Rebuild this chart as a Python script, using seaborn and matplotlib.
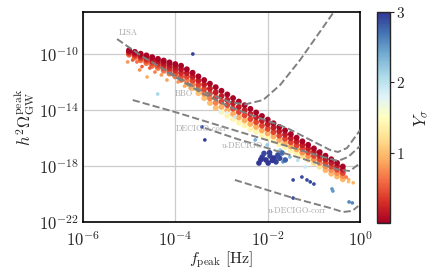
import numpy as np
import pandas as pd
import matplotlib
matplotlib.use("Agg")
import matplotlib.pyplot as plt
import seaborn as sns
from matplotlib import ticker, colors, cm

# ---------------- data (log10 values) ----------------
band_logf = [-5.0, -4.875, -4.75, -4.625, -4.5, -4.375, -4.25, -4.125, -4.0, -3.875,
             -3.75, -3.625, -3.5, -3.375, -3.25, -3.125, -3.0, -2.875, -2.75, -2.625,
             -2.5, -2.375, -2.25, -2.125, -2.0, -1.875, -1.75, -1.625, -1.5, -1.375,
             -1.25, -1.125, -1.0, -0.875, -0.75, -0.625, -0.5, -0.375]

row0_logomega = [-9.73, -9.85, -9.98, -10.10, -10.22, -10.35, -10.47, -10.60, -10.72, -10.84,
                 -11.09, -11.34, -11.60, -11.86, -12.12, -12.37, -12.63, -12.89, -13.15, -13.40,
                 -13.66, -13.92, -14.18, -14.43, -14.69, -14.95, -15.21, -15.46, -15.72, -15.98,
                 -16.24, -16.49, -16.75, -17.01, -17.27, -17.52, -17.78, -18.04]
row1_logomega = [-9.81, -9.95, -10.10, -10.24, -10.38, -10.51, -10.65, -10.80, -10.94, -11.09,
                 -11.36, -11.62, -11.90, -12.18, -12.47, -12.74, -13.01, -13.27, -13.53, -13.78,
                 -14.02, -14.28, -14.52, -14.77, -15.02, -15.26, -15.52, -15.76, -16.02, -16.26,
                 -16.51, -16.76, -17.01, -17.27, -17.53, -17.78, -18.02, -18.27]
row2_logomega = [-9.89, -10.05, -10.22, -10.38, -10.54, -10.68, -10.84, -11.00, -11.16, -11.35,
                 -11.62, -11.90, -12.20, -12.51, -12.81, -13.11, -13.39, -13.65, -13.90, -14.15,
                 -14.38, -14.64, -14.87, -15.12, -15.35, -15.58, -15.83, -16.06, -16.31, -16.54,
                 -16.77, -17.02, -17.28, -17.53, -17.79, -18.04, -18.27, -18.50]
row3_logomega = [-9.97, -10.15, -10.33, -10.51, -10.69, -10.84, -11.02, -11.20, -11.38, -11.60,
                 -11.89, -12.17, -12.50, -12.83, -13.16, -13.48, -13.77, -14.02, -14.28, -14.53,
                 -14.74, -14.99, -15.21, -15.46, -15.67, -15.89, -16.14, -16.35, -16.61, -16.82,
                 -17.04, -17.29, -17.54, -17.79, -18.04, -18.29, -18.51, -18.72]
row4_logomega = [-10.05, -10.25, -10.45, -10.65, -10.85, -11.0, -11.2, -11.4, -11.6, -11.85,
                 -12.15, -12.45, -12.8, -13.15, -13.5, -13.85, -14.15, -14.4, -14.65, -14.9,
                 -15.1, -15.35, -15.55, -15.8, -16.0, -16.2, -16.45, -16.65, -16.9, -17.1,
                 -17.3, -17.55, -17.8, -18.05, -18.3, -18.55, -18.75, -18.95]

row0_Y = [0.03] * 38
row1_Y = [0.12] * 10 + [0.18] * 28
row2_Y = [0.25] * 10 + [0.4] * 28
row3_Y = [0.45] * 10 + [0.7] * 6 + [0.9] * 14 + [0.75] * 8
row4_Y = [0.65] * 10 + [1.0] * 6 + [1.4] * 14 + [1.2] * 4 + [0.95] * 4

# isolated points
extra_logf = [-5.03, -4.83, -4.92, -4.77, -4.72, -4.61, -4.55, -4.44, -4.30, -4.18,
              -3.94, -3.80, -3.68,
              -4.38, -3.62, -3.42, -3.36, -3.03, -2.88, -2.71,
              -2.27, -2.01, -1.73, -1.52, -1.67, -1.19, -1.35,
              -1.45, -1.26, -1.15, -1.08, -1.00, -0.61, -0.59, -0.24, -0.17, -1.45,
              -0.25, -0.25, -0.15, -0.30]
extra_logomega = [-10.57, -10.57, -10.43, -11.14, -10.90, -11.64, -11.00, -11.29, -11.50, -11.86,
                  -12.00, -12.30, -12.43,
                  -12.86, -10.00, -15.21, -16.14, -14.14, -14.21, -14.50,
                  -16.14, -16.50, -16.86, -17.36, -17.71, -18.07, -17.60,
                  -19.00, -18.79, -19.00, -19.14, -19.29, -19.64, -19.79, -20.57, -20.64, -20.29,
                  -18.98, -19.12, -19.20, -18.80]
extra_Y = [0.8, 0.6, 0.5, 0.75, 0.55, 0.9, 0.5, 0.7, 0.8, 0.85,
           0.8, 0.9, 0.85,
           2.1, 2.95, 2.9, 2.95, 1.8, 1.75, 1.9,
           2.4, 2.2, 2.2, 2.3, 2.5, 1.9, 2.0,
           2.9, 2.9, 2.9, 2.9, 2.9, 2.5, 2.5, 2.6, 2.6, 2.9,
           0.9, 1.0, 0.95, 0.7]

# dense dark-blue clump
clump_logf = [-2.12, -2.04, -1.95, -1.86, -1.78, -1.69, -1.99, -1.82, -2.19, -1.62,
              -2.08, -1.90, -2.15, -1.74, -1.96]
clump_logomega = [-17.36, -17.57, -17.29, -17.43, -17.21, -17.07, -17.79, -17.71, -17.79, -17.57,
                  -17.10, -17.60, -17.55, -17.45, -17.05]
clump_Y = [2.95, 3.0, 2.95, 3.0, 2.9, 2.75, 3.0, 2.95, 3.0, 2.8,
           2.9, 3.0, 3.0, 2.9, 2.95]

# sensitivity curves (log10 f, log10 h^2 Omega)
lisa_logf = [-5.26, -4.70, -3.47, -2.82, -2.49, -2.10, -1.73, -1.30, -0.585]
lisa_logomega = [-8.93, -10.21, -12.57, -13.43, -13.60, -13.29, -12.21, -10.43, -7.07]
bbo_logf = [-4.18, -3.47, -2.82, -1.58, -0.65, -0.48, -0.28, 0.0]
bbo_logomega = [-11.29, -12.71, -13.79, -15.29, -16.86, -17.00, -16.71, -15.43]
decigo_corr_logf = [-4.92, -4.01, -2.60, -0.80, -0.48, -0.26, 0.0]
decigo_corr_logomega = [-13.29, -14.14, -15.57, -17.36, -17.64, -17.36, -16.57]
udecigo_logf = [-3.36, -2.66, -1.30, -0.43, -0.22, 0.0]
udecigo_logomega = [-15.29, -16.07, -17.43, -18.29, -18.36, -17.79]
udecigo_corr_logf = [-2.71, -1.45, -0.65, -0.37, -0.17, -0.04]
udecigo_corr_logomega = [-19.00, -20.29, -21.00, -21.29, -21.21, -20.86]

curve_labels = ["LISA", "BBO", "DECIGO-corr", "u-DECIGO", "u-DECIGO-corr"]
label_logf = [-5.22, -4.02, -4.0, -3.0, -2.0]
label_logomega = [-8.5, -12.86, -15.36, -16.57, -21.21]

x_ticks = [1e-6, 1e-4, 1e-2, 1e0]
y_ticks = [1e-22, 1e-18, 1e-14, 1e-10]
cbar_ticks = [1, 2, 3]

# ---------------- style ----------------
sns.set_theme(style="white")
plt.rcParams["font.family"] = ["serif"]
plt.rcParams["font.serif"] = ["cmr10", "DejaVu Serif"]
plt.rcParams["mathtext.fontset"] = "cm"
plt.rcParams["axes.unicode_minus"] = False

fig = plt.figure(figsize=(4.36, 2.73), dpi=100)
ax = fig.add_axes([0.190, 0.187, 0.636, 0.769])
cax = fig.add_axes([0.865, 0.183, 0.030, 0.773])

ax.set_xscale("log")
ax.set_yscale("log")
ax.set_xlim(1e-6, 1e0)
ax.set_ylim(1e-22, 1e-7)
ax.grid(True, which="major", color="#cccccc", linewidth=0.9)
ax.set_axisbelow(True)

norm = colors.Normalize(vmin=0.0, vmax=3.0)
cmap = "RdYlBu"

# band rows drawn bottom-to-top so the red top rows stay visible
rows = [(row4_logomega, row4_Y), (row3_logomega, row3_Y), (row2_logomega, row2_Y),
        (row1_logomega, row1_Y), (row0_logomega, row0_Y)]
for lo, yv in rows:
    df = pd.DataFrame({"f": 10.0 ** np.array(band_logf),
                       "omega": 10.0 ** np.array(lo),
                       "Y": yv})
    sns.scatterplot(data=df, x="f", y="omega", hue="Y", palette=cmap, hue_norm=norm,
                    s=18, linewidth=0, legend=False, ax=ax, zorder=3)

df_extra = pd.DataFrame({"f": 10.0 ** np.array(extra_logf),
                         "omega": 10.0 ** np.array(extra_logomega),
                         "Y": extra_Y})
sns.scatterplot(data=df_extra, x="f", y="omega", hue="Y", palette=cmap, hue_norm=norm,
                s=7, linewidth=0, legend=False, ax=ax, zorder=3)

df_clump = pd.DataFrame({"f": 10.0 ** np.array(clump_logf),
                         "omega": 10.0 ** np.array(clump_logomega),
                         "Y": clump_Y})
sns.scatterplot(data=df_clump, x="f", y="omega", hue="Y", palette=cmap, hue_norm=norm,
                s=16, linewidth=0, legend=False, ax=ax, zorder=3)

curves = [(lisa_logf, lisa_logomega), (bbo_logf, bbo_logomega),
          (decigo_corr_logf, decigo_corr_logomega), (udecigo_logf, udecigo_logomega),
          (udecigo_corr_logf, udecigo_corr_logomega)]
for cf, co in curves:
    sns.lineplot(x=10.0 ** np.array(cf), y=10.0 ** np.array(co), sort=False, estimator=None,
                 color="#808080", linestyle="--", linewidth=1.4, ax=ax, zorder=4)

for lab, lf, lo in zip(curve_labels, label_logf, label_logomega):
    ax.text(10.0 ** lf, 10.0 ** lo, lab, fontsize=6, color="#a8a8a8",
            ha="left", va="center", zorder=5)

ax.set_xticks(x_ticks)
ax.set_yticks(y_ticks)
ax.xaxis.set_minor_locator(ticker.NullLocator())
ax.yaxis.set_minor_locator(ticker.NullLocator())
fmt = ticker.FuncFormatter(lambda v, p: r"$10^{%d}$" % int(round(np.log10(v))))
ax.xaxis.set_major_formatter(fmt)
ax.yaxis.set_major_formatter(fmt)
ax.tick_params(axis="x", which="major", labelsize=12, length=0, pad=6)
ax.tick_params(axis="y", which="major", labelsize=12, length=0, pad=3)
for sp in ax.spines.values():
    sp.set_color("black")
    sp.set_linewidth(1.2)

ax.set_xlabel(r"$f_{\rm peak}\ [{\rm Hz}]$", fontsize=11.5, labelpad=0)
ax.set_ylabel(r"$h^2\Omega_{\rm GW}^{\rm peak}$", fontsize=12, labelpad=1)

sm = cm.ScalarMappable(norm=norm, cmap=cmap)
cb = fig.colorbar(sm, cax=cax, ticks=cbar_ticks)
cb.ax.tick_params(labelsize=11, length=3, width=0.8, pad=1)
cb.ax.set_yticklabels([r"$%d$" % t for t in cbar_ticks])
cb.outline.set_linewidth(1.0)
cb.set_label(r"$Y_\sigma$", fontsize=12, labelpad=6)

fig.savefig("out.png", dpi=100)
